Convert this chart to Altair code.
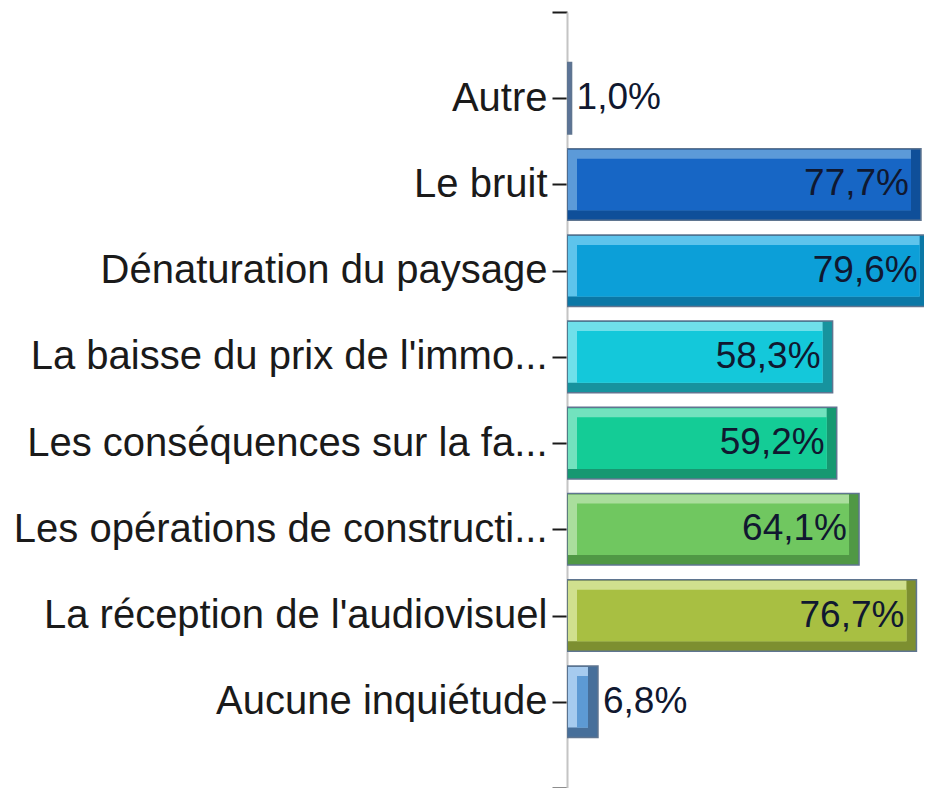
import json
import altair as alt
import pandas as pd

categories = [
    "Autre",
    "Le bruit",
    "Dénaturation du paysage",
    "La baisse du prix de l'immo...",
    "Les conséquences sur la fa...",
    "Les opérations de constructi...",
    "La réception de l'audiovisuel",
    "Aucune inquiétude",
]
values = [1.0, 77.7, 79.6, 58.3, 59.2, 64.1, 76.7, 6.8]

main_colors = ["#5c7497", "#1766c5", "#0c9fd8", "#14c8da", "#14cc96", "#70c760", "#a8bf42", "#5d9ad4"]
light_colors = ["#5c7497", "#5c9ad8", "#5ec4ec", "#6fe0ea", "#72e2be", "#aade9d", "#d0e08e", "#a6cbef"]
dark_colors = ["#5c7497", "#0f4f99", "#0b78a6", "#17939e", "#169871", "#509845", "#7d8f30", "#476f9a"]

n = len(categories)
df = pd.DataFrame({
    "cat": categories,
    "value": values,
    "main": main_colors,
    "light": light_colors,
    "dark": dark_colors,
})
df["idx"] = list(range(1, n + 1))

label_list = [""] + categories + [""]
label_expr = json.dumps(label_list) + "[round(datum.value)]"

HALF = 0.415
BEV = 10

xscale = alt.Scale(domain=[0, 78.36], nice=False, zero=True)
yscale = alt.Scale(domain=[0, n + 1], reverse=True, nice=False, zero=False)

yaxis = alt.Axis(
    values=list(range(0, n + 2)),
    labelExpr=label_expr,
    title=None,
    grid=False,
    ticks=True,
    tickColor="#1a1a1a",
    tickWidth=2,
    tickSize=15,
    domainColor="#c4c4c4",
    domainWidth=2,
    labelFont="Liberation Sans",
    labelFontSize=40,
    labelColor="#1a1a1a",
    labelPadding=5,
    labelOverlap=False,
    labelFlush=False,
    labelLimit=0,
)

base = alt.Chart(df).transform_calculate(
    zero="0",
    y0=f"datum.idx - {HALF}",
    y1=f"datum.idx + {HALF}",
    label="replace(format(datum.value, '.1f'), '.', ',') + '%'",
)

outer = base.mark_bar(clip=True, stroke="#5f7590", strokeWidth=1.5).encode(
    x=alt.X("zero:Q", scale=xscale, axis=None),
    x2="value:Q",
    y=alt.Y("y0:Q", scale=yscale, axis=yaxis),
    y2="y1:Q",
    fill=alt.Fill("dark:N", scale=None),
)

light = base.transform_filter("datum.value > 3").mark_bar(
    clip=True, xOffset=1, x2Offset=-BEV, yOffset=1, y2Offset=-BEV
).encode(
    x=alt.X("zero:Q", scale=xscale, axis=None),
    x2="value:Q",
    y=alt.Y("y0:Q", scale=yscale, axis=yaxis),
    y2="y1:Q",
    fill=alt.Fill("light:N", scale=None),
)

main = base.transform_filter("datum.value > 3").mark_bar(
    clip=True, xOffset=BEV, x2Offset=-BEV, yOffset=BEV, y2Offset=-BEV
).encode(
    x=alt.X("zero:Q", scale=xscale, axis=None),
    x2="value:Q",
    y=alt.Y("y0:Q", scale=yscale, axis=yaxis),
    y2="y1:Q",
    fill=alt.Fill("main:N", scale=None),
)

text_in = base.transform_filter("datum.value > 20").mark_text(
    align="right", baseline="middle", dx=-12, font="Liberation Sans", fontSize=37, color="#101830"
).encode(
    x=alt.X("value:Q", scale=xscale, axis=None),
    y=alt.Y("idx:Q", scale=yscale, axis=yaxis),
    text="label:N",
)

text_out = base.transform_filter("datum.value <= 20").mark_text(
    align="left", baseline="middle", dx=5, font="Liberation Sans", fontSize=37, color="#101830"
).encode(
    x=alt.X("value:Q", scale=xscale, axis=None),
    y=alt.Y("idx:Q", scale=yscale, axis=yaxis),
    text="label:N",
)

chart = alt.layer(outer, light, main, text_in, text_out).properties(
    width=357,
    height=776,
    autosize=alt.AutoSizeParams(type="none"),
    padding={"left": 559, "top": 4, "right": 0, "bottom": 0},
).configure_view(stroke=None)

chart.save("out.html", embed_options={"renderer": "svg", "actions": False})
